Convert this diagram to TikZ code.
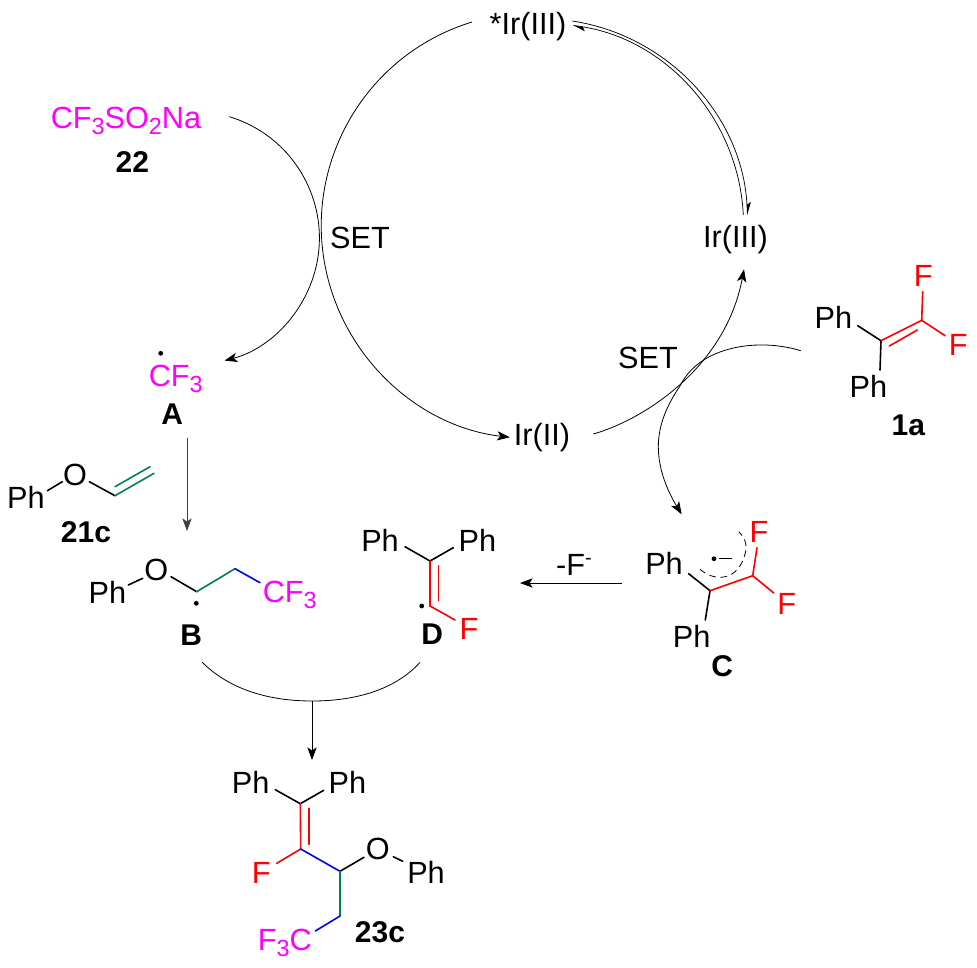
\documentclass[tikz,border=0pt]{standalone}
\usepackage{fontspec}
\setmainfont{Liberation Sans}
\usetikzlibrary{arrows.meta}
\definecolor{cmag}{RGB}{255,0,255}
\definecolor{cred}{RGB}{255,0,0}
\definecolor{cgrn}{RGB}{0,128,80}
\definecolor{cblu}{RGB}{0,0,255}
\newcommand\lowsub[1]{\raisebox{-5pt}{\fontsize{17.5}{18}\selectfont #1}}
\newcommand\highsup[1]{\raisebox{8pt}{\fontsize{15}{16}\selectfont #1}}
\tikzset{
  lbl/.style={inner sep=0pt,font=\fontsize{23}{27}\selectfont},
  tag/.style={inner sep=0pt,font=\fontsize{22.5}{27}\selectfont\bfseries},
  bond/.style={line width=1.2pt,line cap=round},
  thin arc/.style={line width=.6pt},
  arr/.style={line width=.6pt,-{Stealth[length=9.5pt,width=7pt,inset=2.4pt]}},
  hup/.style={line width=.55pt,-{Stealth[harpoon,length=9pt,width=6pt,inset=2pt]}},
  radical/.style={circle,fill=black,inner sep=0pt,minimum size=3.6pt},
}
\begin{document}
\begin{tikzpicture}[x=.75pt,y=-.75pt]
\useasboundingbox (0,0) rectangle (977,967);
% labels of the cycle
\node[lbl] (irstar) at (528,27) {*Ir(III)};
\node[lbl] (ir3) at (735.5,240) {Ir(III)};
\node[lbl] (ir2) at (542,438) {Ir(II)};
\node[lbl] (setl) at (360,238) {SET};
\node[lbl] (setr) at (648,358) {SET};
\node[lbl,text=cmag,anchor=base west] (na) at (50.5,128) {CF\lowsub{3}SO\lowsub{2}Na};
\node[tag] (n22) at (132.3,162.3) {22};
% cycle arcs
\coordinate (c1) at (472,22);
\draw[arr] (c1) arc[start angle=-107,end angle=-263.4,radius=213];
\coordinate (c3) at (572.3,21);
\coordinate (c5) at (743.3,215);
\draw[hup] (c3) arc[start angle=-81.3,end angle=-2.8,radius=206.7];
\draw[hup] (c5) arc[start angle=-2.8,end angle=-81.2,radius=202];
\coordinate (c6) at (593.3,434);
\coordinate (c7) at (744,269.3);
\draw[arr] (c6) .. controls (640,421) and (725,370) .. (c7);
% CF3SO2Na to A
\coordinate (c8) at (229.3,116.7);
\draw[arr] (c8) arc[start angle=-73.2,end angle=75.4,radius=126.7];
% A
\node[lbl,text=cmag,anchor=base west] (cf3a) at (148.5,386) {CF\lowsub{3}};
\node[radical] (dota) at (160.7,353.3) {};
\node[tag] (a) at (172.3,414) {A};
\coordinate (ab1) at (187,438);
\coordinate (ab2) at (187,531);
\draw[arr,black!75] (ab1) -- (ab2);
% 21c
\node[lbl] (ph21) at (26,497) {Ph};
\node[lbl] (o21) at (75,475) {O};
\node[tag] (n21) at (86,532) {21c};
\coordinate (e1) at (47.3,490.7);
\coordinate (e2) at (62.3,481.7);
\coordinate (e3) at (89.3,481.7);
\coordinate (e4) at (115,495.7);
\coordinate (e5) at (154,473.3);
\coordinate (e6) at (115,486.7);
\coordinate (e7) at (150,466.7);
\draw[bond] (e1) -- (e2);
\draw[bond] (e3) -- (e4);
\draw[bond,cgrn] (e4) -- (e5);
\draw[bond,cgrn] (e6) -- (e7);
% B
\node[lbl] (phb) at (107.3,592) {Ph};
\node[lbl] (ob) at (156.3,570) {O};
\node[lbl,text=cmag,anchor=base west] (cf3b) at (262.5,602) {CF\lowsub{3}};
\node[radical] (dotb) at (196.3,603.3) {};
\node[tag] (b) at (191.3,635) {B};
\coordinate (b1) at (128.3,585);
\coordinate (b2) at (142.7,578.3);
\coordinate (b3) at (171,576.7);
\coordinate (b4) at (196.7,591.7);
\coordinate (b5) at (235,568.7);
\coordinate (b6) at (260,582.7);
\draw[bond] (b1) -- (b2);
\draw[bond] (b3) -- (b4);
\draw[bond,cgrn] (b4) -- (b5);
\draw[bond,cblu] (b5) -- (b6);
% D
\node[lbl] (phd1) at (380,540) {Ph};
\node[lbl] (phd2) at (477.3,540) {Ph};
\node[lbl,text=cred] (fd) at (469,629.3) {F};
\node[radical] (dotd) at (421.7,606) {};
\node[tag] (d) at (432.3,634.3) {D};
\coordinate (d1) at (405,546.7);
\coordinate (d2) at (430,561);
\coordinate (d3) at (453.3,547.7);
\coordinate (d4) at (430,606);
\coordinate (d5) at (438.3,566);
\coordinate (d6) at (438.3,600.7);
\coordinate (d7) at (455,620);
\draw[bond] (d1) -- (d2) -- (d3);
\draw[bond,cred] (d2) -- (d4) -- (d7);
\draw[bond,cred] (d5) -- (d6);
% C
\node[lbl] (phc1) at (664,563) {Ph};
\node[lbl] (phc2) at (691.7,636.7) {Ph};
\node[lbl,text=cred] (fc1) at (759,531.7) {F};
\node[lbl,text=cred] (fc2) at (786.7,604) {F};
\node[tag] (cc) at (722.3,666) {C};
\node[radical] (dotc) at (714,558.7) {};
\coordinate (g1) at (688.7,573.7);
\coordinate (g2) at (710,590.7);
\coordinate (g3) at (705.3,620);
\coordinate (g4) at (752.7,575.7);
\coordinate (g5) at (757,547.7);
\coordinate (g6) at (773.7,593);
\coordinate (g7) at (719.3,558.7);
\coordinate (g8) at (732.3,558.7);
\coordinate (g9) at (700,569.3);
\coordinate (g10) at (738.7,531.7);
\draw[bond] (g1) -- (g2) -- (g3);
\draw[bond,cred] (g2) -- (g4) -- (g5);
\draw[bond,cred] (g4) -- (g6);
\draw[line width=.7pt] (g7) -- (g8);
\draw[line width=.6pt,dash pattern=on 5pt off 3.4pt] (g9) .. controls (715,582) and (735,580) .. (743,560) .. controls (748,548) and (747,540) .. (g10);
\coordinate (f1) at (622,583);
\coordinate (f2) at (520,583);
\draw[arr] (f1) -- (f2);
\node[lbl] (minusf) at (574,565) {-F\highsup{-}};
% 1a
\node[lbl] (ph1) at (833.3,317.7) {Ph};
\node[lbl] (ph2) at (868.3,386.7) {Ph};
\node[lbl,text=cred] (f11) at (923.3,276) {F};
\node[lbl,text=cred] (f12) at (958.3,345) {F};
\node[tag] (n1a) at (908.3,425) {1a};
\coordinate (h1) at (857.7,325.7);
\coordinate (h2) at (881,340.7);
\coordinate (h3) at (880,370);
\coordinate (h4) at (921.7,320.3);
\coordinate (h5) at (889.3,346);
\coordinate (h6) at (917.3,330);
\coordinate (h7) at (922.7,291.7);
\coordinate (h8) at (945,335.7);
\draw[bond] (h1) -- (h2) -- (h3);
\draw[bond,cred] (h2) -- (h4) -- (h7);
\draw[bond,cred] (h4) -- (h8);
\draw[bond,cred] (h5) -- (h6);
% 1a to C
\coordinate (s1) at (800.7,350.7);
\coordinate (s2) at (681.7,514.3);
\draw[arr] (s1) .. controls (760,338) and (700,345) .. (680,386) .. controls (667,405) and (658.3,425) .. (658.3,446.7) .. controls (658.3,470) and (668,492) .. (s2);
% B + D to 23c
\coordinate (m1) at (202.3,662.3);
\coordinate (m2) at (420,662.3);
\coordinate (m3) at (312,701);
\coordinate (m4) at (312,760);
\draw[thin arc] (m1) .. controls (230,690) and (270,701) .. (m3) .. controls (355,701) and (395,690) .. (m2);
\draw[arr] (m3) -- (m4);
% 23c
\node[lbl] (p1) at (250.7,782.7) {Ph};
\node[lbl] (p2) at (347.3,782.7) {Ph};
\node[lbl,text=cred] (pf) at (261.3,872.7) {F};
\node[lbl] (po) at (377.7,849.3) {O};
\node[lbl] (p3) at (426,872) {Ph};
\node[lbl,text=cmag,anchor=base west] (pcf) at (257.6,950) {F\lowsub{3}C};
\node[tag] (n23) at (380,931.7) {23c};
\coordinate (k1) at (275.3,789.7);
\coordinate (k2) at (300.3,803.7);
\coordinate (k3) at (323.7,790.3);
\coordinate (k4) at (300.7,849);
\coordinate (k5) at (308.7,808.3);
\coordinate (k6) at (308.7,844.3);
\coordinate (k7) at (276.7,863.3);
\coordinate (k8) at (340,871.3);
\coordinate (k9) at (364,857.3);
\coordinate (k10) at (393.3,856.7);
\coordinate (k11) at (402.7,861.3);
\coordinate (k12) at (340,916);
\coordinate (k13) at (315.3,931);
\draw[bond] (k1) -- (k2) -- (k3);
\draw[bond,cred] (k2) -- (k4) -- (k7);
\draw[bond,cred] (k5) -- (k6);
\draw[bond,cblu] (k4) -- (k8);
\draw[bond] (k8) -- (k9);
\draw[bond] (k10) -- (k11);
\draw[bond,cgrn] (k8) -- (k12);
\draw[bond,cblu] (k12) -- (k13);
\end{tikzpicture}
\end{document}
